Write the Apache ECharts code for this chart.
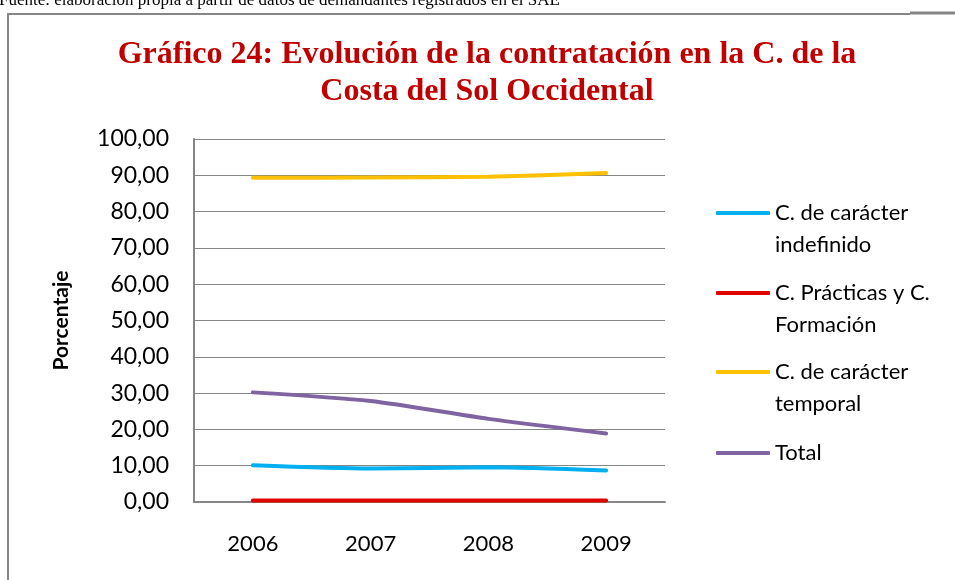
<!DOCTYPE html>
<html>
<head>
<meta charset="utf-8">
<script src="https://cdn.jsdelivr.net/npm/echarts@6/dist/echarts.min.js"></script>
<style>
  html, body { margin: 0; padding: 0; background: #fff; }
  #chart { width: 955px; height: 580px; }
</style>
</head>
<body>
<div id="chart"></div>
<script>
const years = ['2006', '2007', '2008', '2009'];
const indefinido = [10.1, 9.2, 9.6, 8.7];
const practicas = [0.4, 0.4, 0.4, 0.4];
const temporal = [89.3, 89.4, 89.6, 90.6];
const total = [30.2, 27.8, 22.9, 18.9];

const seriesNames = [
  'C. de carácter indefinido',
  'C. Prácticas y C. Formación',
  'C. de carácter temporal',
  'Total'
];
// texto de la leyenda partido en dos líneas; la línea vacía delante
// deja el icono a la altura de la primera línea, como en el original
const legendLabels = {
  'C. de carácter indefinido': '\nC. de carácter\nindefinido',
  'C. Prácticas y C. Formación': '\nC. Prácticas y C.\nFormación',
  'C. de carácter temporal': '\nC. de carácter\ntemporal',
  'Total': 'Total'
};
const colors = ['#00B0F0', '#E00000', '#FFC000', '#8064A2'];
const legendTops = [165, 245, 324, 437];

const chart = echarts.init(document.getElementById('chart'));

const legends = seriesNames.map((name, i) => ({
  data: [{ name: name }],
  orient: 'vertical',
  left: 716,
  top: legendTops[i],
  padding: 0,
  itemWidth: 54,
  itemHeight: 4,
  itemGap: 0,
  icon: 'roundRect',
  formatter: (n) => legendLabels[n],
  textStyle: {
    fontFamily: 'Lato',
    fontSize: 22,
    lineHeight: 32,
    color: '#000'
  }
}));

const option = {
  backgroundColor: '#fff',
  animation: false,
  title: {
    text: 'Gráfico 24: Evolución de la contratación en la C. de la\nCosta del Sol Occidental',
    left: 482,
    textAlign: 'center',
    top: 31,
    textStyle: {
      fontFamily: 'Liberation Serif',
      fontWeight: 'bold',
      fontSize: 32,
      lineHeight: 37,
      color: '#C00000'
    }
  },
  graphic: [
    {
      type: 'text',
      left: -1,
      top: -8,
      style: {
        text: 'Fuente: elaboración propia a partir de datos de demandantes registrados en el SAE',
        font: '17px "Liberation Serif"',
        fill: '#000'
      }
    },
    {
      type: 'polyline',
      shape: { points: [[8, 580], [8, 14], [910, 14]] },
      style: { stroke: '#868686', lineWidth: 2, fill: null }
    },
    {
      type: 'line',
      shape: { x1: 910, y1: 13, x2: 955, y2: 13 },
      style: { stroke: '#868686', lineWidth: 3 }
    }
  ],
  legend: legends,
  grid: {
    left: 194,
    right: 290,
    top: 139,
    bottom: 78
  },
  xAxis: {
    type: 'category',
    data: years,
    boundaryGap: true,
    axisLine: { lineStyle: { color: '#868686', width: 2 } },
    axisTick: { show: false },
    axisLabel: {
      fontFamily: 'Lato',
      fontSize: 22,
      color: '#000',
      margin: 31
    }
  },
  yAxis: {
    type: 'value',
    min: 0,
    max: 100,
    interval: 10,
    name: 'Porcentaje',
    nameLocation: 'middle',
    nameGap: 122,
    nameTextStyle: {
      fontFamily: 'Lato',
      fontSize: 21,
      fontWeight: 'bold',
      color: '#000'
    },
    axisLine: { show: true, lineStyle: { color: '#868686', width: 2 } },
    axisTick: { show: false },
    splitLine: { lineStyle: { color: '#868686', width: 1 } },
    axisLabel: {
      fontFamily: 'Lato',
      fontSize: 23,
      color: '#000',
      margin: 25,
      formatter: (v) => v.toFixed(2).replace('.', ',')
    }
  },
  series: [indefinido, practicas, temporal, total].map((vals, i) => ({
    name: seriesNames[i],
    type: 'line',
    data: vals,
    smooth: 0.25,
    showSymbol: false,
    lineStyle: { color: colors[i], width: 4, cap: 'round' },
    itemStyle: { color: colors[i] }
  }))
};

chart.setOption(option);
</script>
</body>
</html>
